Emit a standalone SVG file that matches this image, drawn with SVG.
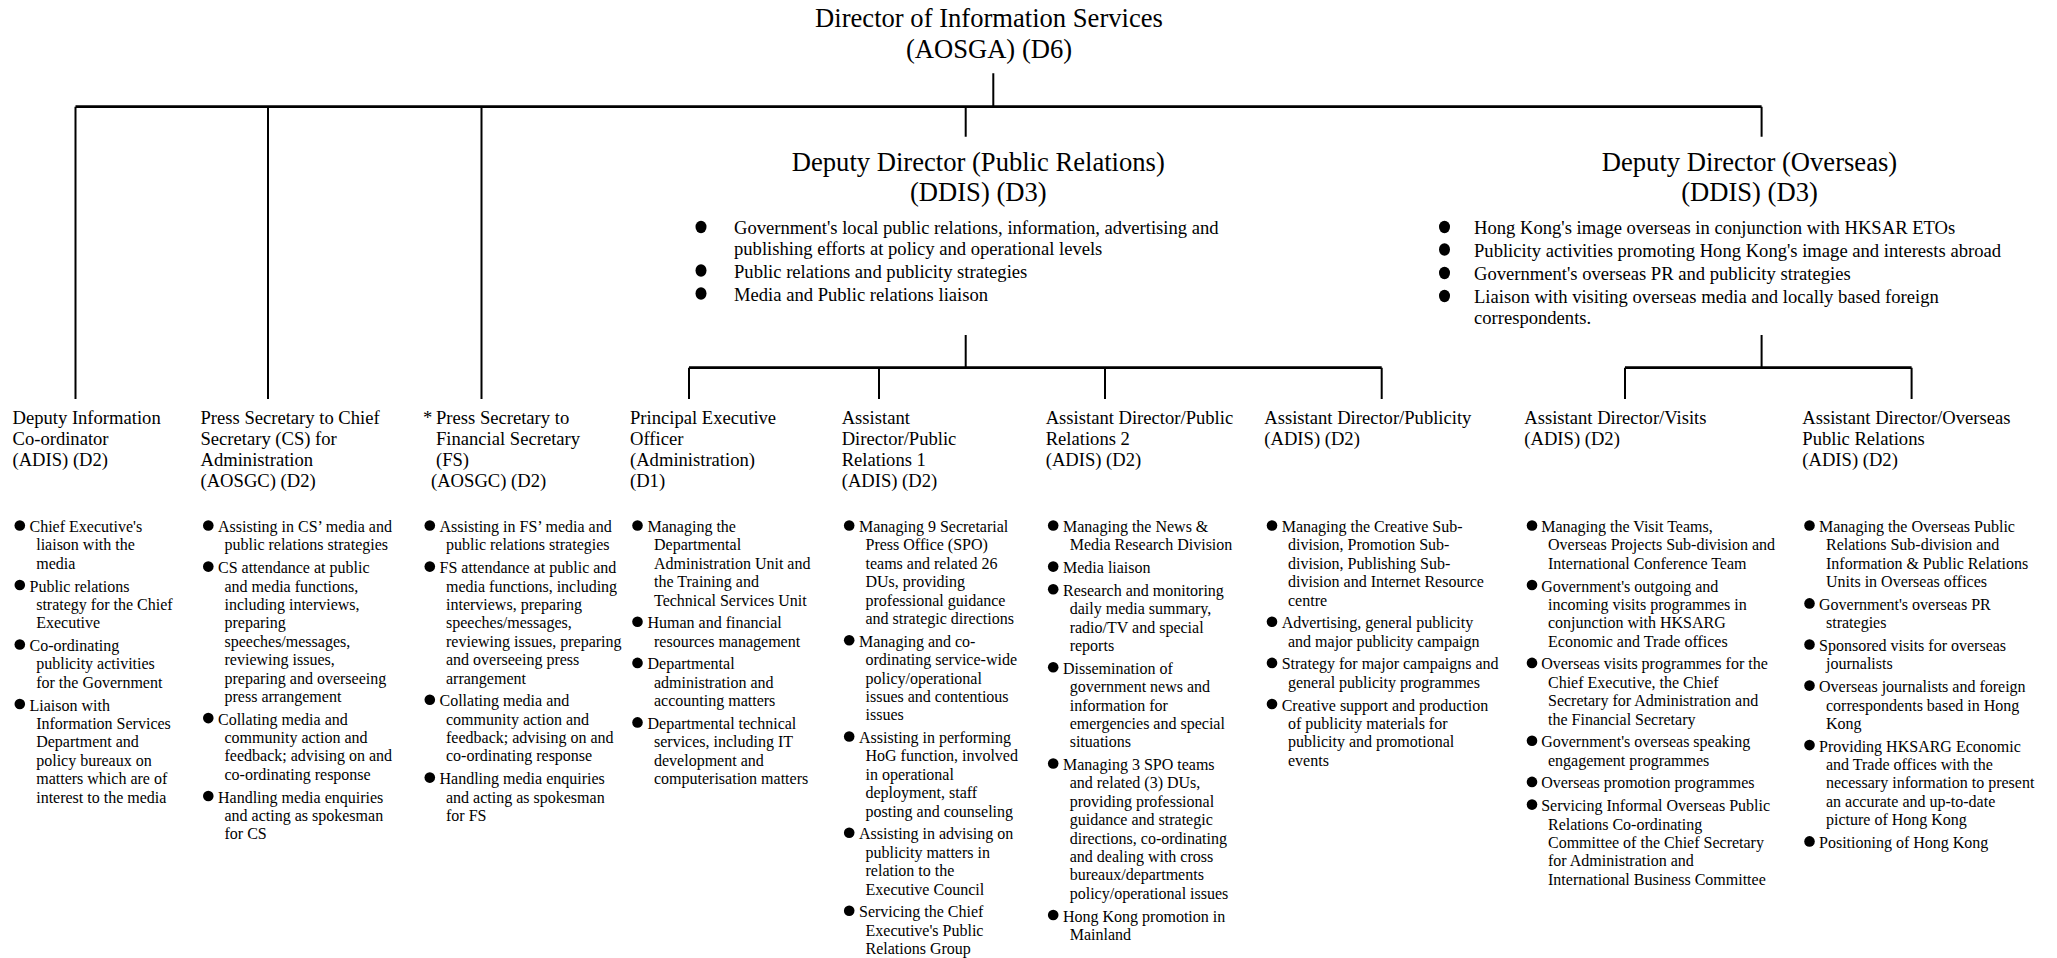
<svg xmlns="http://www.w3.org/2000/svg" width="2057" height="958" viewBox="0 0 2057 958">
<style>
text{font-family:"Liberation Serif","Times New Roman",serif;fill:#000}
.t{font-size:26.6px}
.h{font-size:18.6px}
.b{font-size:16px}
.d{fill:#000}
.hl{stroke:#000;stroke-width:2.7;fill:none}
.vl{stroke:#000;stroke-width:2;fill:none}
</style>
<defs>
<circle id="dot" r="5.3" class="d"/>
<ellipse id="bdot" rx="5.5" ry="6.2" class="d"/>
</defs>
<rect width="2057" height="958" fill="#fff"/>
<g id="connectors">
<path class="hl" d="M75.5 106.7H1761.6M689 367.7H1381.7M1625 367.7H1911.6"/>
<path class="vl" d="M993.3 73.3V106.7M75.5 106.7V399M268 106.7V399M481.5 106.7V399M965.7 106.7V136.7M1761.6 106.7V136.7M965.7 335V367.7M1761.6 335V367.7M689 367.7V399M879 367.7V399M1105 367.7V399M1381.7 367.7V399M1625 367.7V399M1911.6 367.7V399"/>
</g>
<g id="director">
<text class="t" text-anchor="middle" x="989" y="27">Director of Information Services</text>
<text class="t" text-anchor="middle" x="989" y="57.5">(AOSGA) (D6)</text>
</g>
<g id="ddis-pr">
<text class="t" text-anchor="middle" x="978.3" y="171">Deputy Director (Public Relations)</text>
<text class="t" text-anchor="middle" x="978.3" y="201">(DDIS) (D3)</text>
<use href="#bdot" x="701" y="227"/>
<use href="#bdot" x="701" y="270.5"/>
<use href="#bdot" x="701" y="293.5"/>
<text class="h" x="734" y="234">Government's local public relations, information, advertising and</text>
<text class="h" x="734" y="254.5">publishing efforts at policy and operational levels</text>
<text class="h" x="734" y="277.5">Public relations and publicity strategies</text>
<text class="h" x="734" y="300.5">Media and Public relations liaison</text>
</g>
<g id="ddis-os">
<text class="t" text-anchor="middle" x="1749.5" y="171">Deputy Director (Overseas)</text>
<text class="t" text-anchor="middle" x="1749.5" y="201">(DDIS) (D3)</text>
<use href="#bdot" x="1444.5" y="227"/>
<use href="#bdot" x="1444.5" y="249.5"/>
<use href="#bdot" x="1444.5" y="273"/>
<use href="#bdot" x="1444.5" y="296"/>
<text class="h" x="1474" y="234">Hong Kong's image overseas in conjunction with HKSAR ETOs</text>
<text class="h" x="1474" y="256.5">Publicity activities promoting Hong Kong's image and interests abroad</text>
<text class="h" x="1474" y="280">Government's overseas PR and publicity strategies</text>
<text class="h" x="1474" y="303">Liaison with visiting overseas media and locally based foreign</text>
<text class="h" x="1474" y="324">correspondents.</text>
</g>
<g id="col1">
<text class="h" y="424.3"><tspan x="12.5">Deputy Information</tspan><tspan x="12.5" dy="20.8">Co-ordinator</tspan><tspan x="12.5" dy="20.8">(ADIS) (D2)</tspan></text>
<use href="#dot" x="19.8" y="525.5"/>
<use href="#dot" x="19.8" y="585"/>
<use href="#dot" x="19.8" y="644.5"/>
<use href="#dot" x="19.8" y="704"/>
<text class="b" y="532"><tspan x="29.5">Chief Executive's</tspan><tspan x="36.2" dy="18.4">liaison with the</tspan><tspan x="36.2" dy="18.4">media</tspan></text>
<text class="b" y="591.5"><tspan x="29.5">Public relations</tspan><tspan x="36.2" dy="18.4">strategy for the Chief</tspan><tspan x="36.2" dy="18.4">Executive</tspan></text>
<text class="b" y="651"><tspan x="29.5">Co-ordinating</tspan><tspan x="36.2" dy="18.4">publicity activities</tspan><tspan x="36.2" dy="18.4">for the Government</tspan></text>
<text class="b" y="710.5"><tspan x="29.5">Liaison with</tspan><tspan x="36.2" dy="18.4">Information Services</tspan><tspan x="36.2" dy="18.4">Department and</tspan><tspan x="36.2" dy="18.4">policy bureaux on</tspan><tspan x="36.2" dy="18.4">matters which are of</tspan><tspan x="36.2" dy="18.4">interest to the media</tspan></text>
</g>
<g id="col2">
<text class="h" y="424.3"><tspan x="200.5">Press Secretary to Chief</tspan><tspan x="200.5" dy="20.8">Secretary (CS) for</tspan><tspan x="200.5" dy="20.8">Administration</tspan><tspan x="200.5" dy="20.8">(AOSGC) (D2)</tspan></text>
<use href="#dot" x="208.3" y="525.5"/>
<use href="#dot" x="208.3" y="566.6"/>
<use href="#dot" x="208.3" y="718.1"/>
<use href="#dot" x="208.3" y="796"/>
<text class="b" y="532"><tspan x="218">Assisting in CS’ media and</tspan><tspan x="224.5" dy="18.4">public relations strategies</tspan></text>
<text class="b" y="573.1"><tspan x="218">CS attendance at public</tspan><tspan x="224.5" dy="18.4">and media functions,</tspan><tspan x="224.5" dy="18.4">including interviews,</tspan><tspan x="224.5" dy="18.4">preparing</tspan><tspan x="224.5" dy="18.4">speeches/messages,</tspan><tspan x="224.5" dy="18.4">reviewing issues,</tspan><tspan x="224.5" dy="18.4">preparing and overseeing</tspan><tspan x="224.5" dy="18.4">press arrangement</tspan></text>
<text class="b" y="724.6"><tspan x="218">Collating media and</tspan><tspan x="224.5" dy="18.4">community action and</tspan><tspan x="224.5" dy="18.4">feedback; advising on and</tspan><tspan x="224.5" dy="18.4">co-ordinating response</tspan></text>
<text class="b" y="802.5"><tspan x="218">Handling media enquiries</tspan><tspan x="224.5" dy="18.4">and acting as spokesman</tspan><tspan x="224.5" dy="18.4">for CS</tspan></text>
</g>
<g id="col3">
<text class="h" y="424.3"><tspan x="423">*</tspan><tspan x="436">Press Secretary to</tspan><tspan x="436" dy="20.8">Financial Secretary</tspan><tspan x="436" dy="20.8">(FS)</tspan><tspan x="431" dy="20.8">(AOSGC) (D2)</tspan></text>
<use href="#dot" x="429.8" y="525.5"/>
<use href="#dot" x="429.8" y="566.6"/>
<use href="#dot" x="429.8" y="699.7"/>
<use href="#dot" x="429.8" y="777.6"/>
<text class="b" y="532"><tspan x="439.5">Assisting in FS’ media and</tspan><tspan x="446" dy="18.4">public relations strategies</tspan></text>
<text class="b" y="573.1"><tspan x="439.5">FS attendance at public and</tspan><tspan x="446" dy="18.4">media functions, including</tspan><tspan x="446" dy="18.4">interviews, preparing</tspan><tspan x="446" dy="18.4">speeches/messages,</tspan><tspan x="446" dy="18.4">reviewing issues, preparing</tspan><tspan x="446" dy="18.4">and overseeing press</tspan><tspan x="446" dy="18.4">arrangement</tspan></text>
<text class="b" y="706.2"><tspan x="439.5">Collating media and</tspan><tspan x="446" dy="18.4">community action and</tspan><tspan x="446" dy="18.4">feedback; advising on and</tspan><tspan x="446" dy="18.4">co-ordinating response</tspan></text>
<text class="b" y="784.1"><tspan x="439.5">Handling media enquiries</tspan><tspan x="446" dy="18.4">and acting as spokesman</tspan><tspan x="446" dy="18.4">for FS</tspan></text>
</g>
<g id="col4">
<text class="h" y="424.3"><tspan x="630">Principal Executive</tspan><tspan x="630" dy="20.8">Officer</tspan><tspan x="630" dy="20.8">(Administration)</tspan><tspan x="630" dy="20.8">(D1)</tspan></text>
<use href="#dot" x="637.5" y="525.5"/>
<use href="#dot" x="637.5" y="621.8"/>
<use href="#dot" x="637.5" y="662.9"/>
<use href="#dot" x="637.5" y="722.4"/>
<text class="b" y="532"><tspan x="647.5">Managing the</tspan><tspan x="654" dy="18.4">Departmental</tspan><tspan x="654" dy="18.4">Administration Unit and</tspan><tspan x="654" dy="18.4">the Training and</tspan><tspan x="654" dy="18.4">Technical Services Unit</tspan></text>
<text class="b" y="628.3"><tspan x="647.5">Human and financial</tspan><tspan x="654" dy="18.4">resources management</tspan></text>
<text class="b" y="669.4"><tspan x="647.5">Departmental</tspan><tspan x="654" dy="18.4">administration and</tspan><tspan x="654" dy="18.4">accounting matters</tspan></text>
<text class="b" y="728.9"><tspan x="647.5">Departmental technical</tspan><tspan x="654" dy="18.4">services, including IT</tspan><tspan x="654" dy="18.4">development and</tspan><tspan x="654" dy="18.4">computerisation matters</tspan></text>
</g>
<g id="col5">
<text class="h" y="424.3"><tspan x="841.7">Assistant</tspan><tspan x="841.7" dy="20.8">Director/Public</tspan><tspan x="841.7" dy="20.8">Relations 1</tspan><tspan x="841.7" dy="20.8">(ADIS) (D2)</tspan></text>
<use href="#dot" x="849.2" y="525.5"/>
<use href="#dot" x="849.2" y="640.2"/>
<use href="#dot" x="849.2" y="736.5"/>
<use href="#dot" x="849.2" y="832.8"/>
<use href="#dot" x="849.2" y="910.7"/>
<text class="b" y="532"><tspan x="859">Managing 9 Secretarial</tspan><tspan x="865.5" dy="18.4">Press Office (SPO)</tspan><tspan x="865.5" dy="18.4">teams and related 26</tspan><tspan x="865.5" dy="18.4">DUs, providing</tspan><tspan x="865.5" dy="18.4">professional guidance</tspan><tspan x="865.5" dy="18.4">and strategic directions</tspan></text>
<text class="b" y="646.7"><tspan x="859">Managing and co-</tspan><tspan x="865.5" dy="18.4">ordinating service-wide</tspan><tspan x="865.5" dy="18.4">policy/operational</tspan><tspan x="865.5" dy="18.4">issues and contentious</tspan><tspan x="865.5" dy="18.4">issues</tspan></text>
<text class="b" y="743"><tspan x="859">Assisting in performing</tspan><tspan x="865.5" dy="18.4">HoG function, involved</tspan><tspan x="865.5" dy="18.4">in operational</tspan><tspan x="865.5" dy="18.4">deployment, staff</tspan><tspan x="865.5" dy="18.4">posting and counseling</tspan></text>
<text class="b" y="839.3"><tspan x="859">Assisting in advising on</tspan><tspan x="865.5" dy="18.4">publicity matters in</tspan><tspan x="865.5" dy="18.4">relation to the</tspan><tspan x="865.5" dy="18.4">Executive Council</tspan></text>
<text class="b" y="917.2"><tspan x="859">Servicing the Chief</tspan><tspan x="865.5" dy="18.4">Executive's Public</tspan><tspan x="865.5" dy="18.4">Relations Group</tspan></text>
</g>
<g id="col6">
<text class="h" y="424.3"><tspan x="1045.7">Assistant Director/Public</tspan><tspan x="1045.7" dy="20.8">Relations 2</tspan><tspan x="1045.7" dy="20.8">(ADIS) (D2)</tspan></text>
<use href="#dot" x="1053.2" y="525.5"/>
<use href="#dot" x="1053.2" y="566.6"/>
<use href="#dot" x="1053.2" y="589.3"/>
<use href="#dot" x="1053.2" y="667.2"/>
<use href="#dot" x="1053.2" y="763.5"/>
<use href="#dot" x="1053.2" y="915"/>
<text class="b" y="532"><tspan x="1063">Managing the News &amp;</tspan><tspan x="1069.7" dy="18.4">Media Research Division</tspan></text>
<text class="b" y="573.1"><tspan x="1063">Media liaison</tspan></text>
<text class="b" y="595.8"><tspan x="1063">Research and monitoring</tspan><tspan x="1069.7" dy="18.4">daily media summary,</tspan><tspan x="1069.7" dy="18.4">radio/TV and special</tspan><tspan x="1069.7" dy="18.4">reports</tspan></text>
<text class="b" y="673.7"><tspan x="1063">Dissemination of</tspan><tspan x="1069.7" dy="18.4">government news and</tspan><tspan x="1069.7" dy="18.4">information for</tspan><tspan x="1069.7" dy="18.4">emergencies and special</tspan><tspan x="1069.7" dy="18.4">situations</tspan></text>
<text class="b" y="770"><tspan x="1063">Managing 3 SPO teams</tspan><tspan x="1069.7" dy="18.4">and related (3) DUs,</tspan><tspan x="1069.7" dy="18.4">providing professional</tspan><tspan x="1069.7" dy="18.4">guidance and strategic</tspan><tspan x="1069.7" dy="18.4">directions, co-ordinating</tspan><tspan x="1069.7" dy="18.4">and dealing with cross</tspan><tspan x="1069.7" dy="18.4">bureaux/departments</tspan><tspan x="1069.7" dy="18.4">policy/operational issues</tspan></text>
<text class="b" y="921.5"><tspan x="1063">Hong Kong promotion in</tspan><tspan x="1069.7" dy="18.4">Mainland</tspan></text>
</g>
<g id="col7">
<text class="h" y="424.3"><tspan x="1264.3">Assistant Director/Publicity</tspan><tspan x="1264.3" dy="20.8">(ADIS) (D2)</tspan></text>
<use href="#dot" x="1272" y="525.5"/>
<use href="#dot" x="1272" y="621.8"/>
<use href="#dot" x="1272" y="662.9"/>
<use href="#dot" x="1272" y="704"/>
<text class="b" y="532"><tspan x="1281.7">Managing the Creative Sub-</tspan><tspan x="1288" dy="18.4">division, Promotion Sub-</tspan><tspan x="1288" dy="18.4">division, Publishing Sub-</tspan><tspan x="1288" dy="18.4">division and Internet Resource</tspan><tspan x="1288" dy="18.4">centre</tspan></text>
<text class="b" y="628.3"><tspan x="1281.7">Advertising, general publicity</tspan><tspan x="1288" dy="18.4">and major publicity campaign</tspan></text>
<text class="b" y="669.4"><tspan x="1281.7">Strategy for major campaigns and</tspan><tspan x="1288" dy="18.4">general publicity programmes</tspan></text>
<text class="b" y="710.5"><tspan x="1281.7">Creative support and production</tspan><tspan x="1288" dy="18.4">of publicity materials for</tspan><tspan x="1288" dy="18.4">publicity and promotional</tspan><tspan x="1288" dy="18.4">events</tspan></text>
</g>
<g id="col8">
<text class="h" y="424.3"><tspan x="1524.3">Assistant Director/Visits</tspan><tspan x="1524.3" dy="20.8">(ADIS) (D2)</tspan></text>
<use href="#dot" x="1532" y="525.5"/>
<use href="#dot" x="1532" y="585"/>
<use href="#dot" x="1532" y="662.9"/>
<use href="#dot" x="1532" y="740.8"/>
<use href="#dot" x="1532" y="781.9"/>
<use href="#dot" x="1532" y="804.6"/>
<text class="b" y="532"><tspan x="1541.2">Managing the Visit Teams,</tspan><tspan x="1548" dy="18.4">Overseas Projects Sub-division and</tspan><tspan x="1548" dy="18.4">International Conference Team</tspan></text>
<text class="b" y="591.5"><tspan x="1541.2">Government's outgoing and</tspan><tspan x="1548" dy="18.4">incoming visits programmes in</tspan><tspan x="1548" dy="18.4">conjunction with HKSARG</tspan><tspan x="1548" dy="18.4">Economic and Trade offices</tspan></text>
<text class="b" y="669.4"><tspan x="1541.2">Overseas visits programmes for the</tspan><tspan x="1548" dy="18.4">Chief Executive, the Chief</tspan><tspan x="1548" dy="18.4">Secretary for Administration and</tspan><tspan x="1548" dy="18.4">the Financial Secretary</tspan></text>
<text class="b" y="747.3"><tspan x="1541.2">Government's overseas speaking</tspan><tspan x="1548" dy="18.4">engagement programmes</tspan></text>
<text class="b" y="788.4"><tspan x="1541.2">Overseas promotion programmes</tspan></text>
<text class="b" y="811.1"><tspan x="1541.2">Servicing Informal Overseas Public</tspan><tspan x="1548" dy="18.4">Relations Co-ordinating</tspan><tspan x="1548" dy="18.4">Committee of the Chief Secretary</tspan><tspan x="1548" dy="18.4">for Administration and</tspan><tspan x="1548" dy="18.4">International Business Committee</tspan></text>
</g>
<g id="col9">
<text class="h" y="424.3"><tspan x="1802.3">Assistant Director/Overseas</tspan><tspan x="1802.3" dy="20.8">Public Relations</tspan><tspan x="1802.3" dy="20.8">(ADIS) (D2)</tspan></text>
<use href="#dot" x="1809.5" y="525.5"/>
<use href="#dot" x="1809.5" y="603.4"/>
<use href="#dot" x="1809.5" y="644.5"/>
<use href="#dot" x="1809.5" y="685.6"/>
<use href="#dot" x="1809.5" y="745.1"/>
<use href="#dot" x="1809.5" y="841.4"/>
<text class="b" y="532"><tspan x="1819">Managing the Overseas Public</tspan><tspan x="1826" dy="18.4">Relations Sub-division and</tspan><tspan x="1826" dy="18.4">Information &amp; Public Relations</tspan><tspan x="1826" dy="18.4">Units in Overseas offices</tspan></text>
<text class="b" y="609.9"><tspan x="1819">Government's overseas PR</tspan><tspan x="1826" dy="18.4">strategies</tspan></text>
<text class="b" y="651"><tspan x="1819">Sponsored visits for overseas</tspan><tspan x="1826" dy="18.4">journalists</tspan></text>
<text class="b" y="692.1"><tspan x="1819">Overseas journalists and foreign</tspan><tspan x="1826" dy="18.4">correspondents based in Hong</tspan><tspan x="1826" dy="18.4">Kong</tspan></text>
<text class="b" y="751.6"><tspan x="1819">Providing HKSARG Economic</tspan><tspan x="1826" dy="18.4">and Trade offices with the</tspan><tspan x="1826" dy="18.4">necessary information to present</tspan><tspan x="1826" dy="18.4">an accurate and up-to-date</tspan><tspan x="1826" dy="18.4">picture of Hong Kong</tspan></text>
<text class="b" y="847.9"><tspan x="1819">Positioning of Hong Kong</tspan></text>
</g>
</svg>
